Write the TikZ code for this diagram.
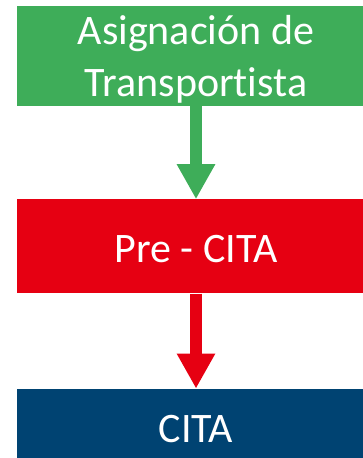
\documentclass[tikz,border=0pt]{standalone}
\usepackage{fontspec}
\setmainfont{Carlito}[Ligatures=NoCommon]
\usetikzlibrary{arrows.meta, positioning}
\definecolor{asigverde}{RGB}{62,173,89}
\definecolor{prerojo}{RGB}{230,0,18}
\definecolor{citaazul}{RGB}{0,67,114}

\begin{document}
\begin{tikzpicture}[
                x=1pt, y=1pt,
                node distance=93pt,
                box/.style={rectangle, minimum width=358pt, inner sep=0pt, font=\fontsize{42}{52}\selectfont, text=white, align=center},
                oneline/.style={box, text height=32pt, text depth=0pt},
                arrow/.style={-{Triangle[width=36pt, length=35pt]}, line width=12pt}
            ]
                \useasboundingbox (0,0) rectangle (363,-458);
                \clip (0,0) rectangle (363,-458);
                \node[box, fill=asigverde, minimum height=100pt] (asig) at (196,-56) {\rule{0pt}{36pt}Asignación de\\Transportista};
                \node[oneline, fill=prerojo, minimum height=94pt, below=of asig] (pre) {Pre - CITA};
                \node[oneline, fill=citaazul, minimum height=76pt, below=95pt of pre] (cita) {CITA};

                \draw[arrow, asigverde] (asig) -- (pre);
                \draw[arrow, prerojo] (pre) -- (cita);
            \end{tikzpicture}
\end{document}
